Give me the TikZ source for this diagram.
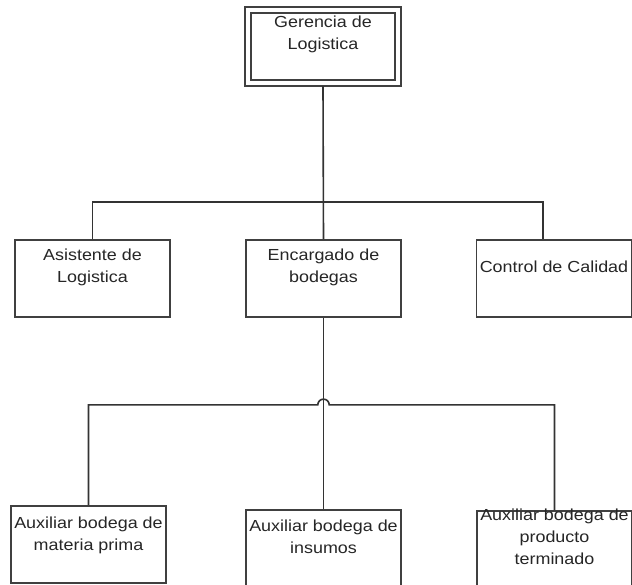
\documentclass[tikz,border=0pt]{standalone}
\usepackage{fontspec}
\setmainfont{Liberation Sans}[FakeStretch=1.12]
\begin{document}
\begin{tikzpicture}[x=0.75pt,y=-0.75pt,
  box/.style={draw=black!75, line width=1.25pt, fill=white, rectangle,
    inner sep=0pt, minimum width=116.25pt, minimum height=57.75pt},
  headbox/.style={box, line width=1.1pt, minimum width=112.5pt, minimum height=54.75pt,
    double, double distance=3.4pt, outer sep=2.3pt},
  lbl/.style={font=\fontsize{12}{16.5}\selectfont, align=center,
    inner sep=0pt, anchor=north, text=black!85},
  wire/.style={draw=black!80, line width=1.2pt}]
\useasboundingbox (0,0) rectangle (632,585);
\fill[white] (0,0) rectangle (632,585);

% boxes of the chart
\node[headbox] (top) at (323,46.5) {};
\node[box] (asis) at (92.5,278.5) {};
\node[box] (enc)  at (323.5,278.5) {};
\node[box] (ctrl) at (554,278.5) {};
\node[box] (mat)  at (88.5,544.5) {};
\node[box] (ins)  at (323.5,548.5) {};
\node[box] (prod) at (554.5,549.5) {};

% labels
\node[lbl] (top-t)  at ([yshift=-6.8pt]top.north) {Gerencia de\\Logistica};
\node[lbl] (asis-t) at ([yshift=-7pt]asis.north) {Asistente de\\Logistica};
\node[lbl] (enc-t)  at ([yshift=-7pt]enc.north) {Encargado de\\bodegas};
\node[lbl] (ctrl-t) at ([yshift=-15.8pt]ctrl.north) {Control de Calidad};
\node[lbl] (mat-t)  at ([yshift=-8.5pt]mat.north) {Auxiliar bodega de\\materia prima};
\node[lbl] (ins-t)  at ([yshift=-7.7pt]ins.north) {Auxiliar bodega de\\insumos};
\node[lbl] (prod-t) at ([yshift=1.5pt]prod.north) {Auxiliar bodega de\\producto\\terminado};

% connectors
\draw[wire] (top.south) -- (enc.north);
\draw[wire] (asis.north) -- ++(0,-37) -| ([xshift=-8.25pt]ctrl.north);
\draw[wire] (enc.south) -- (ins.north);
\draw[wire] (mat.north) -- ++(0,-100.3) coordinate (bar)
  -- ([xshift=-4.3pt]ins.north |- bar)
  arc[start angle=180, end angle=0, radius=4.3pt]
  -| (prod.north);
\end{tikzpicture}
\end{document}
